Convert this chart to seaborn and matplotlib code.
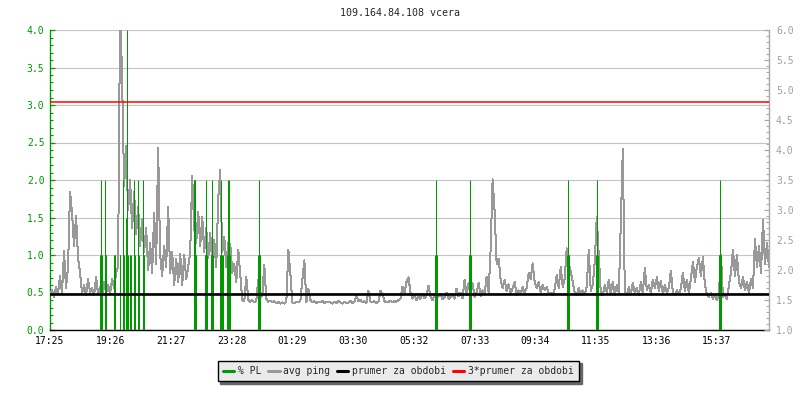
import numpy as np
import pandas as pd
import matplotlib
matplotlib.use("Agg")
import matplotlib.pyplot as plt
from matplotlib.lines import Line2D
from matplotlib.ticker import MultipleLocator, FormatStrFormatter
import seaborn as sns

# Chart data
title = "109.164.84.108 vcera"
start_label = "17:25"
tick_labels = ["17:25", "19:26", "21:27", "23:28", "01:29", "03:30",
               "05:32", "07:33", "09:34", "11:35", "13:36", "15:37"]
step_min = 4           # one ping sample every 4 minutes
mean_ping = 1.6        # prumer za obdobi (ms)

# avg ping in ms
avg_ping = [
    1.58, 1.66, 1.55, 1.72, 1.60, 1.90, 1.62, 2.31, 1.70, 2.05, 3.30, 2.95, 2.40, 2.90, 2.20, 1.95, 1.62, 1.75, 1.58, 1.85,
    1.62, 1.70, 1.58, 1.88, 1.60, 1.72, 1.58, 1.80, 1.62, 1.75, 1.60, 1.85, 1.70, 1.95, 2.05, 6.40, 5.19, 3.40, 4.06, 3.00,
    3.50, 2.70, 3.30, 2.60, 3.05, 2.40, 2.85, 2.30, 2.70, 2.00, 2.45, 1.95, 2.95, 2.10, 4.03, 2.25, 1.90, 2.40, 2.05, 3.05,
    1.95, 2.30, 1.75, 2.19, 1.80, 2.27, 1.75, 2.25, 1.85, 2.05, 2.30, 3.56, 2.70, 2.45, 2.97, 2.40, 2.89, 2.30, 2.70, 2.20,
    2.61, 2.15, 2.50, 2.05, 3.20, 3.66, 2.30, 2.55, 2.05, 2.45, 2.44, 1.95, 2.10, 1.80, 2.34, 1.91, 1.50, 1.48, 1.89, 1.50,
    1.47, 1.50, 1.46, 1.49, 1.84, 1.55, 1.58, 2.09, 1.52, 1.47, 1.49, 1.46, 1.48, 1.45, 1.47, 1.44, 1.46, 1.44, 1.47, 2.34,
    1.95, 1.46, 1.45, 1.47, 1.46, 1.48, 1.84, 2.16, 1.46, 1.69, 1.50, 1.46, 1.48, 1.45, 1.47, 1.46, 1.49, 1.45, 1.47, 1.46,
    1.46, 1.44, 1.47, 1.45, 1.48, 1.46, 1.44, 1.47, 1.45, 1.46, 1.49, 1.45, 1.47, 1.58, 1.48, 1.50, 1.46, 1.48, 1.45, 1.65,
    1.47, 1.46, 1.48, 1.45, 1.47, 1.65, 1.60, 1.48, 1.46, 1.47, 1.49, 1.46, 1.48, 1.47, 1.50, 1.52, 1.72, 1.60, 1.80, 1.88,
    1.62, 1.52, 1.58, 1.50, 1.55, 1.52, 1.60, 1.53, 1.57, 1.74, 1.55, 1.50, 1.58, 1.52, 1.56, 1.60, 1.51, 1.55, 1.62, 1.52,
    1.55, 1.60, 1.52, 1.69, 1.56, 1.62, 1.53, 1.84, 1.58, 1.78, 1.60, 1.78, 1.55, 1.63, 1.78, 1.57, 1.66, 1.60, 1.89, 1.62,
    2.34, 3.51, 2.98, 2.10, 2.19, 1.84, 1.70, 1.84, 1.65, 1.76, 1.60, 1.70, 1.80, 1.58, 1.66, 1.60, 1.72, 1.62, 1.70, 1.95,
    1.85, 2.11, 1.80, 1.70, 1.80, 1.62, 1.75, 1.66, 1.72, 1.60, 1.62, 1.58, 1.68, 1.92, 1.70, 2.05, 1.72, 1.85, 2.36, 2.11,
    1.97, 1.80, 1.62, 1.58, 1.70, 1.58, 1.66, 1.60, 1.72, 2.34, 1.65, 1.75, 2.14, 2.88, 2.25, 1.62, 1.58, 1.75, 1.62, 1.84,
    1.60, 1.80, 1.58, 1.75, 1.62, 2.77, 4.01, 1.65, 1.58, 1.72, 1.60, 1.78, 1.62, 1.70, 1.58, 1.80, 1.62, 2.03, 1.66, 1.75,
    1.62, 1.84, 1.70, 1.88, 1.65, 1.82, 1.60, 1.75, 1.62, 1.70, 1.99, 1.62, 1.58, 1.66, 1.60, 1.70, 1.95, 1.65, 1.84, 1.62,
    1.85, 2.14, 1.80, 2.05, 2.20, 1.90, 2.21, 1.75, 1.60, 1.55, 1.62, 1.52, 1.58, 1.50, 1.60, 2.25, 1.55, 1.58, 1.52, 1.75,
    1.95, 2.34, 1.90, 2.25, 1.80, 1.70, 1.88, 1.66, 1.80, 1.62, 1.85, 1.70, 2.52, 2.05, 2.40, 1.95, 2.84, 2.10, 2.45, 2.05,
]

# packet loss (% PL), minutes after 17:25 and value on the left axis
pl_minutes = [100, 101, 102, 103,
              110, 111, 112,
              128, 129, 130,
              139, 140,
              145, 146, 147,
              152, 153, 154, 155,
              160, 161,
              167, 168, 169,
              176, 177,
              186, 187, 188,
              287, 288, 289, 290, 291, 292,
              309, 310, 311, 312, 313,
              321, 322, 323, 324, 325,
              340, 341, 342, 343, 344, 345,
              353, 354, 355, 356, 357, 358, 359, 360,
              416, 417, 418, 419, 420,
              769, 770, 771, 772, 773,
              836, 837, 838, 839, 840,
              1033, 1034, 1035, 1036, 1037,
              1090, 1091, 1092, 1093, 1094,
              1336, 1337, 1338, 1339, 1340]
pl_values = [1, 2, 1, 1,
             2, 1, 1,
             1, 1, 1,
             1, 1,
             1, 2, 1,
             1.5, 4, 1.5, 1,
             1, 1,
             1, 2, 1,
             2, 1,
             2, 1, 1,
             2, 2, 2, 2, 1, 1,
             1, 1, 2, 1, 1,
             1, 1, 2, 1, 1,
             1, 1, 2, 1, 1, 1,
             1, 1, 2, 1, 1, 2, 1, 1,
             1, 1, 2, 1, 1,
             1, 1, 2, 1, 1,
             1, 1, 2, 1, 1,
             1, 1, 2, 1, 1,
             1, 1, 2, 1, 1,
             1, 1, 2, 1, 1]

legend_labels = ["% PL", "avg ping", "prumer za obdobi", "3*prumer za obdobi"]

green = "#009900"
grey = "#999999"


def minutes_from_start(lbl):
    h, m = map(int, lbl.split(":"))
    sh, sm = map(int, start_label.split(":"))
    return ((h * 60 + m) - (sh * 60 + sm)) % 1440


ping_df = pd.DataFrame({"minute": np.arange(len(avg_ping)) * step_min,
                        "ping": avg_ping})

sns.set_style("white")
plt.rcParams["font.family"] = ["DejaVu Sans Mono"]
plt.rcParams["font.size"] = 7

fig = plt.figure(figsize=(8, 4), dpi=100)
ax = fig.add_axes([50 / 800, 70 / 400, 719 / 800, 300 / 400])
ax2 = ax.twinx()

ax.set_xlim(0, ping_df["minute"].iloc[-1])
ax.set_ylim(0, 4)
ax2.set_ylim(1, 6)

# ping on right axis
sns.lineplot(data=ping_df, x="minute", y="ping", ax=ax2, color=grey, lw=0.72,
             antialiased=False, zorder=2)
# packet loss bars, in left-axis units, drawn above the ping line
ax2.vlines(pl_minutes, 0, pl_values, color=green, lw=0.72, antialiased=True,
           snap=True, transform=ax.transData, zorder=2.5)
ax2.axhline(mean_ping, color="black", lw=1.9, zorder=3)
ax2.axhline(3 * mean_ping, color="red", lw=1.1, zorder=3)

ax.set_xlim(0, ping_df["minute"].iloc[-1])
ax.set_ylim(0, 4)
ax2.set_ylim(1, 6)

ax.set_xticks([minutes_from_start(t) for t in tick_labels])
ax.set_xticklabels(tick_labels)
for a in (ax, ax2):
    a.yaxis.set_major_locator(MultipleLocator(0.5))
    a.yaxis.set_minor_locator(MultipleLocator(0.1))
    a.yaxis.set_major_formatter(FormatStrFormatter("%.1f"))
    a.set_xlabel("")
    a.set_ylabel("")

ax.yaxis.grid(True, color="#c4c4c4", lw=0.8)
ax.set_axisbelow(True)

# spines
ax.spines["top"].set_visible(False)
ax.spines["right"].set_visible(False)
ax.spines["left"].set_color(green)
ax.spines["bottom"].set_color("black")
for s in ("top", "left", "bottom"):
    ax2.spines[s].set_visible(False)
ax2.spines["right"].set_color("#a8a8a8")
for sp in list(ax.spines.values()) + list(ax2.spines.values()):
    sp.set_linewidth(1.0)

ax.tick_params(axis="y", which="both", direction="in", colors=green,
               labelcolor=green, pad=4, labelsize=7)
ax.tick_params(axis="y", which="major", length=3.5, width=0.9)
ax.tick_params(axis="y", which="minor", length=2.4, width=0.8)
ax2.tick_params(axis="y", which="both", direction="in", colors="#a8a8a8",
                labelcolor="#a0a0a0", pad=5, labelsize=7)
ax2.tick_params(axis="y", which="major", length=3.5, width=0.9)
ax2.tick_params(axis="y", which="minor", length=2.4, width=0.8)
ax.tick_params(axis="x", direction="in", length=3.5, width=0.9,
               colors="black", pad=4, labelsize=7)

fig.text(0.5, 1 - 13 / 400, title, ha="center", va="center", fontsize=7.2)

handles = [Line2D([], [], color=green, lw=2.2),
           Line2D([], [], color=grey, lw=2.2),
           Line2D([], [], color="black", lw=2.2),
           Line2D([], [], color="red", lw=2.2)]
leg = fig.legend(handles, legend_labels, loc="center",
                 bbox_to_anchor=(398.5 / 800, 1 - 371 / 400), ncol=4,
                 frameon=True, fancybox=False,
                 shadow={"color": "#666666", "alpha": 1},
                 edgecolor="black", facecolor="#eaeaea", framealpha=1,
                 fontsize=7, handlelength=1.15, handletextpad=0.4,
                 columnspacing=0.7, borderpad=0.55, borderaxespad=0)
leg.get_frame().set_linewidth(1.0)

plt.savefig("out.png", dpi=100)
